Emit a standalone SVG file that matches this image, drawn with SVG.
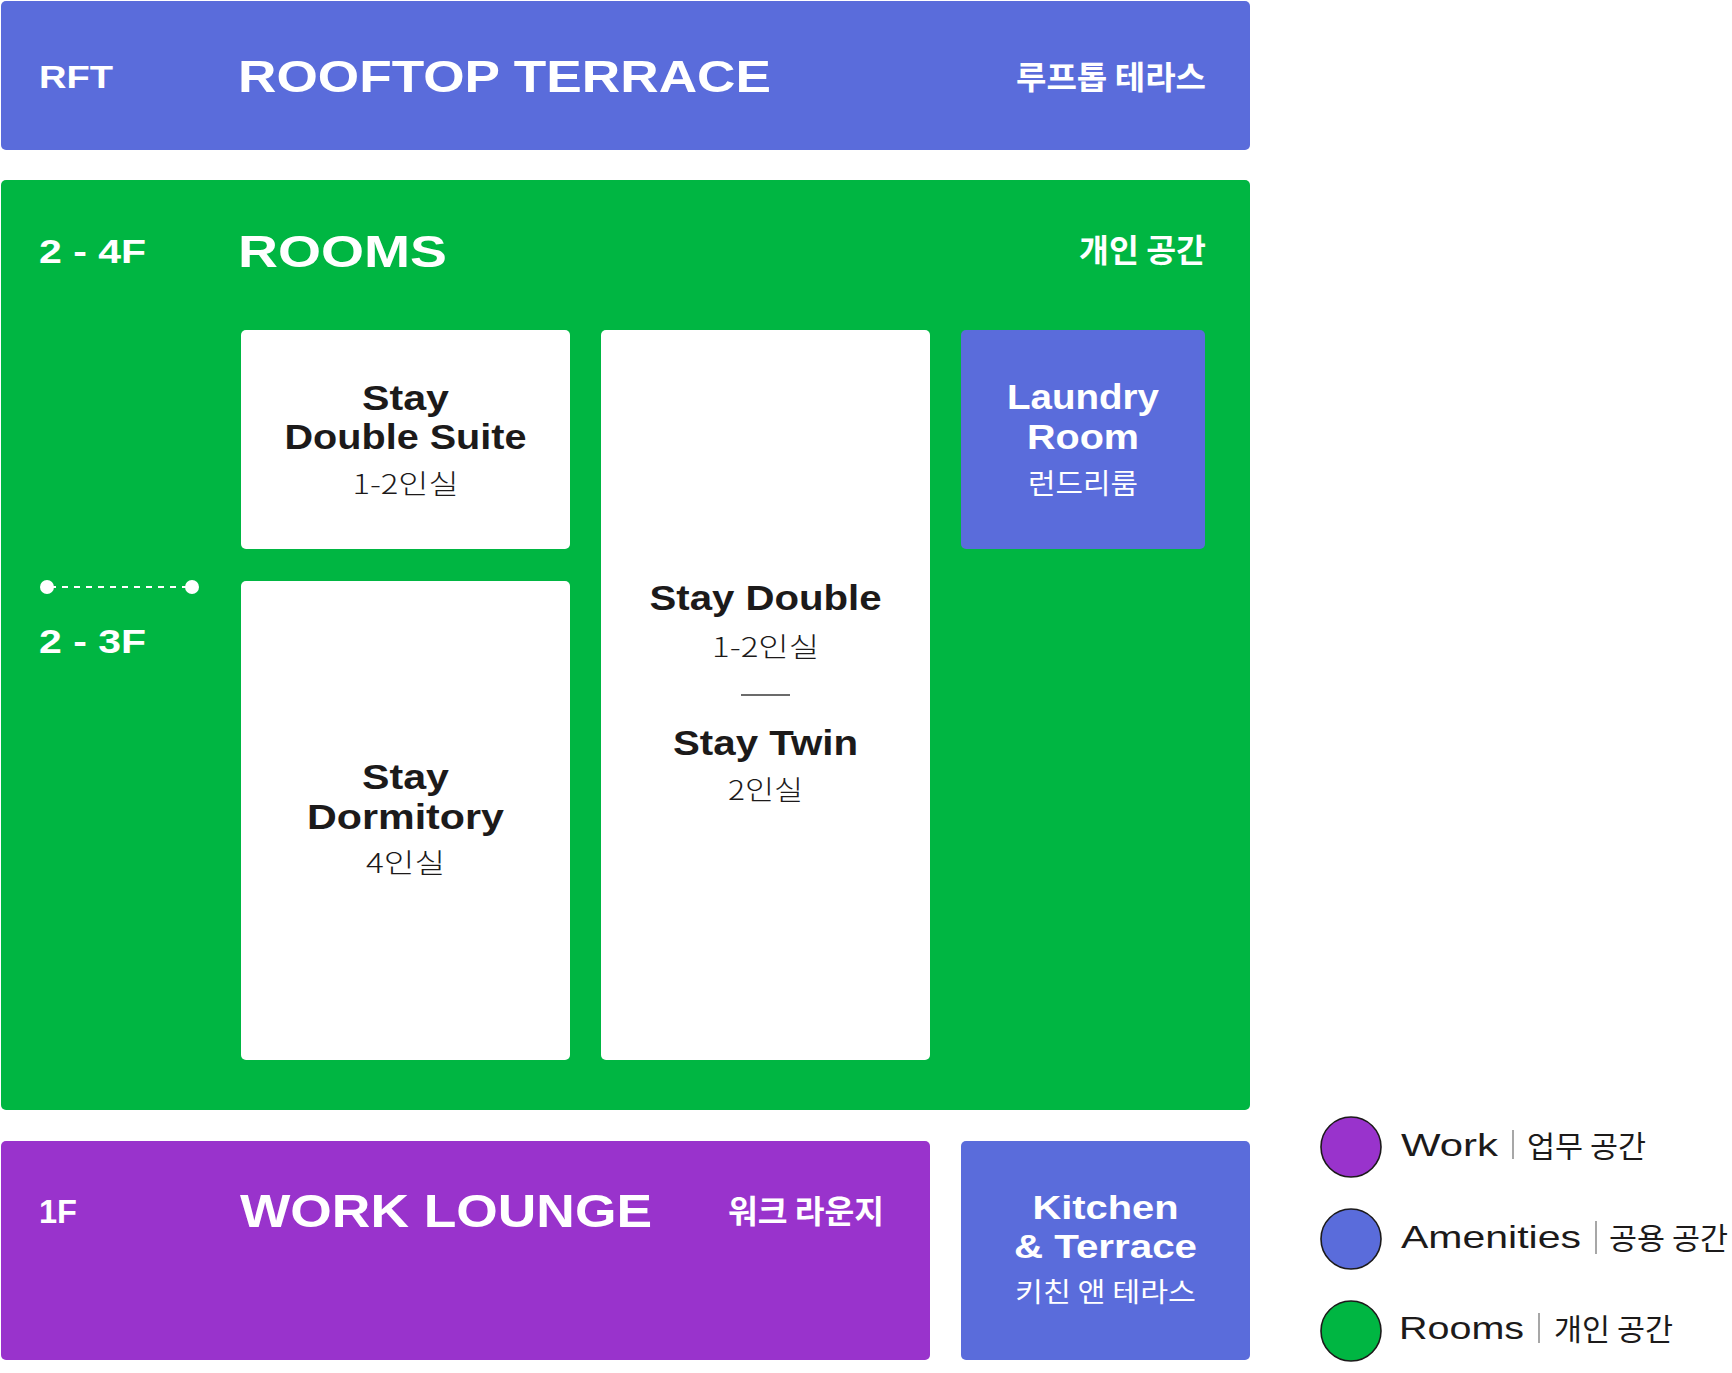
<svg xmlns="http://www.w3.org/2000/svg" width="1732" height="1373" viewBox="0 0 1732 1373">
<style>
.blue{fill:#5A6CDB}
.green{fill:#00B642}
.purple{fill:#9933CC}
.white{fill:#FFFFFF}
.en{font-family:"Liberation Sans",Arial,sans-serif;font-weight:bold}
.enl{font-family:"Liberation Sans",Arial,sans-serif;font-weight:normal;fill:#1c1a1a}
.ko{font-family:"Noto Sans CJK KR","Noto Sans",sans-serif}
.tw{fill:#FFFFFF}
.td{fill:#1c1a1a}
.b{font-weight:bold}
.l{font-weight:300}
.r{font-weight:normal}
.sep{stroke:#8a8a8a;stroke-width:1.5}
.leg{stroke:#1c1a1a;stroke-width:1.6}
</style>
<rect width="1732" height="1373" fill="#FFFFFF"/>

<g id="rooftop-terrace">
<rect class="blue" x="1" y="1" width="1249" height="149" rx="5"/>
<text class="en tw" x="39" y="88" font-size="32" textLength="74" lengthAdjust="spacingAndGlyphs">RFT</text>
<text class="en tw" x="238" y="92" font-size="45" textLength="533" lengthAdjust="spacingAndGlyphs">ROOFTOP TERRACE</text>
<text class="ko tw b" x="1206" y="89" font-size="32" text-anchor="end" textLength="190" lengthAdjust="spacingAndGlyphs">루프톱 테라스</text>
</g>

<g id="rooms">
<rect class="green" x="1" y="180" width="1249" height="930" rx="5"/>
<text class="en tw" x="39" y="263" font-size="34" textLength="107" lengthAdjust="spacingAndGlyphs">2 - 4F</text>
<text class="en tw" x="238" y="267" font-size="45" textLength="209" lengthAdjust="spacingAndGlyphs">ROOMS</text>
<text class="ko tw b" x="1206" y="262" font-size="32" text-anchor="end" textLength="127" lengthAdjust="spacingAndGlyphs">개인 공간</text>
<text class="en tw" x="39" y="653" font-size="33" textLength="107" lengthAdjust="spacingAndGlyphs">2 - 3F</text>
</g>

<g id="connectors">
<line x1="47" y1="587" x2="192" y2="587" stroke="#FFFFFF" stroke-width="2" stroke-dasharray="6 6" stroke-dashoffset="-3"/>
<circle cx="47" cy="587" r="7" fill="#FFFFFF"/>
<circle cx="192" cy="587" r="7" fill="#FFFFFF"/>
</g>

<g id="stay-double-suite">
<rect class="white" x="241" y="330" width="329" height="219" rx="5"/>
<text class="en td" x="405.5" y="410" font-size="35" text-anchor="middle" textLength="87" lengthAdjust="spacingAndGlyphs">Stay</text>
<text class="en td" x="405.5" y="449" font-size="35" text-anchor="middle" textLength="242" lengthAdjust="spacingAndGlyphs">Double Suite</text>
<text class="ko td l" x="405.5" y="494" font-size="27" text-anchor="middle" textLength="106" lengthAdjust="spacingAndGlyphs">1-2인실</text>
</g>

<g id="stay-dormitory">
<rect class="white" x="241" y="581" width="329" height="479" rx="5"/>
<text class="en td" x="405.5" y="789" font-size="35" text-anchor="middle" textLength="87" lengthAdjust="spacingAndGlyphs">Stay</text>
<text class="en td" x="405.5" y="829" font-size="35" text-anchor="middle" textLength="197" lengthAdjust="spacingAndGlyphs">Dormitory</text>
<text class="ko td l" x="405.5" y="873" font-size="27" text-anchor="middle" textLength="79" lengthAdjust="spacingAndGlyphs">4인실</text>
</g>

<g id="stay-double-twin">
<rect class="white" x="601" y="330" width="329" height="730" rx="5"/>
<text class="en td" x="765.5" y="610" font-size="35" text-anchor="middle" textLength="232" lengthAdjust="spacingAndGlyphs">Stay Double</text>
<text class="ko td l" x="765.5" y="657" font-size="27" text-anchor="middle" textLength="107" lengthAdjust="spacingAndGlyphs">1-2인실</text>
<line x1="741" y1="695" x2="790" y2="695" stroke="#3a3a3a" stroke-width="1.3"/>
<text class="en td" x="765.5" y="755" font-size="35" text-anchor="middle" textLength="185" lengthAdjust="spacingAndGlyphs">Stay Twin</text>
<text class="ko td l" x="765.5" y="800" font-size="27" text-anchor="middle" textLength="75" lengthAdjust="spacingAndGlyphs">2인실</text>
</g>

<g id="laundry-room">
<rect class="blue" x="961" y="330" width="244" height="219" rx="5"/>
<text class="en tw" x="1083" y="409" font-size="35" text-anchor="middle" textLength="152" lengthAdjust="spacingAndGlyphs">Laundry</text>
<text class="en tw" x="1083" y="449" font-size="35" text-anchor="middle" textLength="112" lengthAdjust="spacingAndGlyphs">Room</text>
<text class="ko tw r" x="1083" y="494" font-size="28" text-anchor="middle" textLength="110" lengthAdjust="spacingAndGlyphs">런드리룸</text>
</g>

<g id="work-lounge">
<rect class="purple" x="1" y="1141" width="929" height="219" rx="5"/>
<text class="en tw" x="39" y="1223" font-size="34" textLength="38" lengthAdjust="spacingAndGlyphs">1F</text>
<text class="en tw" x="240" y="1227" font-size="46" textLength="412" lengthAdjust="spacingAndGlyphs">WORK LOUNGE</text>
<text class="ko tw b" x="728" y="1223" font-size="32" textLength="156" lengthAdjust="spacingAndGlyphs">워크 라운지</text>
</g>

<g id="kitchen-terrace">
<rect class="blue" x="961" y="1141" width="289" height="219" rx="5"/>
<text class="en tw" x="1105.5" y="1219" font-size="34" text-anchor="middle" textLength="146" lengthAdjust="spacingAndGlyphs">Kitchen</text>
<text class="en tw" x="1105.5" y="1258" font-size="34" text-anchor="middle" textLength="183" lengthAdjust="spacingAndGlyphs">&amp; Terrace</text>
<text class="ko tw r" x="1105.5" y="1302" font-size="27" text-anchor="middle" textLength="181" lengthAdjust="spacingAndGlyphs">키친 앤 테라스</text>
</g>

<g id="legend-work">
<circle class="purple leg" cx="1351" cy="1147" r="30"/>
<text class="enl" x="1401" y="1156" font-size="32" textLength="97" lengthAdjust="spacingAndGlyphs">Work</text>
<line class="sep" x1="1513" y1="1130" x2="1513" y2="1159"/>
<text class="ko td r" x="1527" y="1157" font-size="30" textLength="119" lengthAdjust="spacingAndGlyphs">업무 공간</text>
</g>

<g id="legend-amenities">
<circle class="blue leg" cx="1351" cy="1239" r="30"/>
<text class="enl" x="1401" y="1248" font-size="32" textLength="180" lengthAdjust="spacingAndGlyphs">Amenities</text>
<line class="sep" x1="1596" y1="1221" x2="1596" y2="1254"/>
<text class="ko td r" x="1609" y="1249" font-size="30" textLength="119" lengthAdjust="spacingAndGlyphs">공용 공간</text>
</g>

<g id="legend-rooms">
<circle class="green leg" cx="1351" cy="1331" r="30"/>
<text class="enl" x="1399" y="1339" font-size="32" textLength="125" lengthAdjust="spacingAndGlyphs">Rooms</text>
<line class="sep" x1="1539" y1="1313" x2="1539" y2="1343"/>
<text class="ko td r" x="1554" y="1340" font-size="30" textLength="119" lengthAdjust="spacingAndGlyphs">개인 공간</text>
</g>
</svg>
